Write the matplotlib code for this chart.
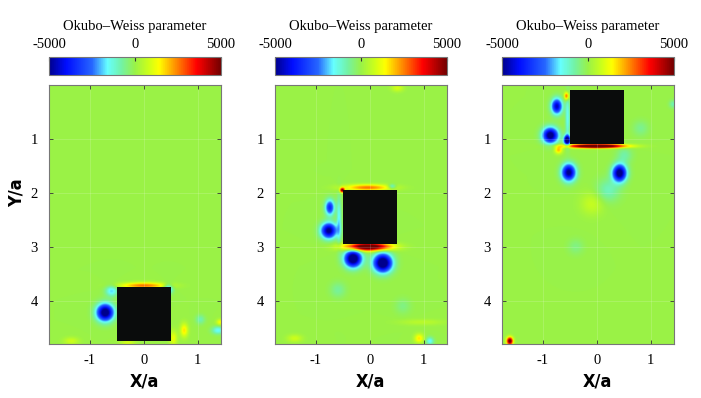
"""Okubo-Weiss parameter around a moving square, three snapshots."""

import numpy as np
import matplotlib.pyplot as plt
from matplotlib.colors import LinearSegmentedColormap
from matplotlib.patches import Rectangle
from matplotlib import font_manager

# axis ranges (in units of a)
x_lim = (-1.76, 1.43)
y_lim = (0.0, 4.8)
cbar_ticks = [-5000, 0, 5000]
x_ticks = [-1, 0, 1]
y_ticks = [1, 2, 3, 4]

# square centre (x, y) per snapshot
square_x = [0.0, 0.0, 0.0]
square_y = [4.25, 2.44, 0.60]

# read-off flow structures per snapshot: x, y, sx, sy, peak value
p1_x = [-0.72, -0.60, 0.45, 0.00, 0.75, 1.05, 1.38, 1.42, -1.35, -0.30, 0.55]
p1_y = [4.22, 3.82, 3.78, 3.72, 4.55, 4.35, 4.55, 4.40, 4.75, 4.78, 4.70]
p1_sx = [0.11, 0.08, 0.06, 0.30, 0.05, 0.06, 0.08, 0.05, 0.10, 0.10, 0.05]
p1_sy = [0.11, 0.07, 0.06, 0.04, 0.09, 0.06, 0.05, 0.04, 0.05, 0.04, 0.10]
p1_q = [-5800, -1800, -2400, 2600, 1600, -900, -1600, 1300, 800, 900, 1200]

p2_x = [-0.77, -0.75, -0.32, 0.23, -0.05, -0.05, -0.52, -0.58, 0.40, -0.60, 0.60, 0.90, 1.10, -1.40, 0.50, 0.95]
p2_y = [2.70, 2.27, 3.22, 3.30, 3.00, 1.90, 1.95, 2.50, 1.88, 3.80, 4.10, 4.70, 4.75, 4.70, 0.05, 4.40]
p2_sx = [0.10, 0.06, 0.11, 0.12, 0.28, 0.30, 0.03, 0.03, 0.05, 0.10, 0.10, 0.06, 0.05, 0.10, 0.08, 0.30]
p2_sy = [0.10, 0.10, 0.11, 0.12, 0.05, 0.04, 0.03, 0.30, 0.03, 0.10, 0.10, 0.06, 0.05, 0.05, 0.05, 0.04]
p2_q = [-5200, -3600, -6200, -6200, 6500, 2600, 5000, -1600, -1600, -700, -500, 1600, -1600, 800, 900, 500]

p3_x = [-0.75, -0.87, -0.53, 0.41, -0.56, -0.02, -0.72, -0.57, -0.55, 0.20, 0.50, 0.80, -1.62, -0.10, -0.40, 1.40]
p3_y = [0.39, 0.93, 1.62, 1.63, 1.02, 1.13, 1.20, 0.20, 0.60, 1.95, 1.30, 0.80, 4.75, 2.20, 3.00, 0.35]
p3_sx = [0.07, 0.10, 0.09, 0.09, 0.04, 0.35, 0.05, 0.03, 0.03, 0.15, 0.10, 0.10, 0.04, 0.15, 0.10, 0.05]
p3_sy = [0.10, 0.10, 0.11, 0.11, 0.06, 0.025, 0.05, 0.05, 0.30, 0.15, 0.10, 0.10, 0.05, 0.15, 0.10, 0.05]
p3_q = [-4600, -5600, -5200, -5600, -6500, 7500, 2000, 3000, -1500, -1000, -800, -600, 5500, 700, -500, -900]

panels = [
    (p1_x, p1_y, p1_sx, p1_sy, p1_q),
    (p2_x, p2_y, p2_sx, p2_sy, p2_q),
    (p3_x, p3_y, p3_sx, p3_sy, p3_q),
]

cmap = LinearSegmentedColormap.from_list("ow", [
    (0.00, (0.00, 0.00, 0.55)),
    (0.10, (0.00, 0.05, 1.00)),
    (0.25, (0.15, 0.40, 1.00)),
    (0.34, (0.40, 1.00, 1.00)),
    (0.42, (0.45, 0.95, 0.65)),
    (0.50, (0.60, 0.95, 0.28)),
    (0.58, (0.80, 1.00, 0.10)),
    (0.64, (1.00, 1.00, 0.00)),
    (0.75, (1.00, 0.50, 0.00)),
    (0.86, (1.00, 0.00, 0.00)),
    (1.00, (0.45, 0.00, 0.00)),
])

serif = "Liberation Serif"
names = {f.name for f in font_manager.fontManager.ttflist}
narrow = [n for n in ["Liberation Sans Narrow", "DejaVu Sans Condensed"] if n in names]
sans = narrow + ["DejaVu Sans"]
lab_kw = dict(family=sans, fontweight="bold", fontsize=15 if narrow else 13,
              fontstretch="condensed")

fig = plt.figure(figsize=(7.01, 3.98), dpi=100)
W, H = 701, 398
lefts = [49, 275, 502]
ax_w, ax_top, ax_bot = 172, 85, 344

gx = np.linspace(x_lim[0], x_lim[1], 320)
gy = np.linspace(y_lim[0], y_lim[1], 480)
X, Y = np.meshgrid(gx, gy)

for i, (px, py, psx, psy, pq) in enumerate(panels):
    field = np.zeros_like(X)
    for cx, cy, sx, sy, q in zip(px, py, psx, psy, pq):
        field += q * np.exp(-((X - cx) ** 2 / (2 * sx ** 2) + (Y - cy) ** 2 / (2 * sy ** 2)))

    ax = fig.add_axes([lefts[i] / W, (H - ax_bot) / H, ax_w / W, (ax_bot - ax_top) / H])
    im = ax.imshow(field, extent=[x_lim[0], x_lim[1], y_lim[1], y_lim[0]], cmap=cmap,
                   vmin=-5000, vmax=5000, interpolation="bilinear", aspect="auto")
    ax.add_patch(Rectangle((square_x[i] - 0.5, square_y[i] - 0.5), 1.0, 1.0,
                           facecolor="#0a0c0c", edgecolor="none", zorder=3))
    ax.set_xlim(x_lim)
    ax.set_ylim(y_lim[1], y_lim[0])
    ax.set_xticks(x_ticks)
    ax.set_yticks(y_ticks)
    ax.set_xticklabels([str(t) for t in x_ticks], family=serif, fontsize=10.5)
    ax.set_yticklabels([str(t) for t in y_ticks], family=serif, fontsize=10.5)
    ax.tick_params(direction="in", top=True, right=True, length=3, width=0.6,
                   color="#333333")
    ax.tick_params(axis="x", pad=7)
    ax.tick_params(axis="y", pad=8)
    ax.grid(True, color="white", alpha=0.18, lw=0.6, zorder=2)
    for s in ax.spines.values():
        s.set_color("#777777")
        s.set_linewidth(0.8)
    fig.text((lefts[i] + ax_w * (0 - x_lim[0]) / (x_lim[1] - x_lim[0])) / W, 1 - 381 / H,
             "X/a", ha="center", va="center", **lab_kw)

    cax = fig.add_axes([lefts[i] / W, (H - 75) / H, ax_w / W, 18 / H])
    cb = fig.colorbar(im, cax=cax, orientation="horizontal", ticks=cbar_ticks)
    cax.xaxis.set_ticks_position("top")
    cax.xaxis.set_label_position("top")
    cax.tick_params(direction="in", length=3, width=0.8, color="#333333", pad=4)
    cax.set_xticklabels([str(t) for t in cbar_ticks], family=serif, fontsize=10.5)
    cb.set_label("Okubo–Weiss parameter", family=serif, fontsize=10.5, labelpad=6)
    cb.outline.set_edgecolor("#777777")
    cb.outline.set_linewidth(0.8)

fig.text(17 / W, 1 - 193 / H, "Y/a", rotation=90, ha="center", va="center", **lab_kw)

fig.savefig("out.png", dpi=100)
